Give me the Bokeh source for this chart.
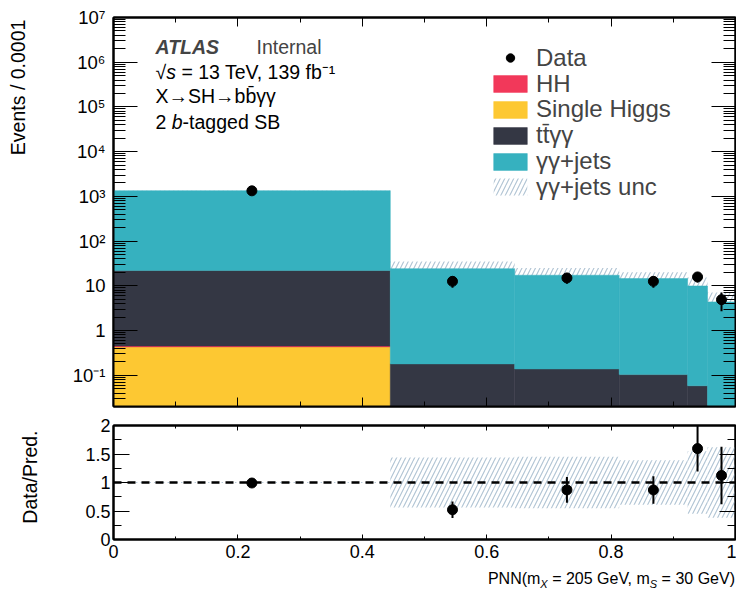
from bokeh.plotting import figure
from bokeh.models import (Range1d, FixedTicker, LinearAxis, LogAxis, CustomJSTickFormatter,
                          Legend, LegendItem, Label, Span, Div)
from bokeh.layouts import column
from bokeh.embed import file_html
from bokeh.resources import INLINE

# ---------------- data ----------------
bin_edges = [0.0, 0.445, 0.645, 0.813, 0.923, 0.955, 1.0]
single_higgs = [0.43, 0.004, 0.003, 0.003, 0.002, 0.001]
hh = [0.02, 0.0005, 0.0004, 0.0003, 0.0002, 0.0001]
ttyy = [21.5, 0.175, 0.135, 0.10, 0.056, 0.012]
yyjets = [1320.0, 24.0, 17.1, 14.4, 9.85, 4.35]
yyjets_unc_rel = [0.01, 0.44, 0.45, 0.39, 0.55, 0.62]
data = [1330.0, 12.6, 15.0, 12.6, 15.8, 4.9]
data_err = [36.5, 3.5, 3.9, 3.5, 4.0, 2.2]

x_major = [0.0, 0.2, 0.4, 0.6, 0.8, 1.0]
x_minor = [0.1, 0.3, 0.5, 0.7, 0.9]
y_major_exp = list(range(-1, 8))
ratio_major = [0.0, 0.5, 1.0, 1.5, 2.0]
ratio_minor = [0.25, 0.75, 1.25, 1.75]

legend_labels = ["Data", "HH", "Single Higgs", "tt\u0304\u03b3\u03b3", "\u03b3\u03b3+jets", "\u03b3\u03b3+jets unc"]

# ---------------- derived ----------------
n = len(data)
left = bin_edges[:-1]
right = bin_edges[1:]
centers = [(a + b) / 2 for a, b in zip(left, right)]
floor = 1e-6
b0 = [floor] * n
t_sh = [floor + v for v in single_higgs]
t_hh = [a + v for a, v in zip(t_sh, hh)]
t_tt = [a + v for a, v in zip(t_hh, ttyy)]
t_yy = [a + v for a, v in zip(t_tt, yyjets)]
total = [a + b + c + d for a, b, c, d in zip(single_higgs, hh, ttyy, yyjets)]
band_lo = [t * (1 - u) for t, u in zip(total, yyjets_unc_rel)]
band_hi = [t * (1 + u) for t, u in zip(total, yyjets_unc_rel)]
ratio = [d / t for d, t in zip(data, total)]
ratio_err = [e / t for e, t in zip(data_err, total)]
rband_lo = [1 - u for u in yyjets_unc_rel]
rband_hi = [1 + u for u in yyjets_unc_rel]

FONT = "Liberation Sans"
C_SH = "#fdc832"
C_HH = "#f2385a"
C_TT = "#343744"
C_YY = "#36b1bf"
C_HATCH = "#afc3d3"
NB = "\u00a0"
HATCH = dict(hatch_pattern="/", hatch_color=C_HATCH, hatch_scale=9, hatch_weight=1.1)

blank = CustomJSTickFormatter(code="return ''")
sup_fmt = CustomJSTickFormatter(code="""
const e = Math.round(Math.log10(tick));
if (e === 0) return "1";
if (e === 1) return "10";
const sup = {"-": "\\u207b", "0": "\\u2070", "1": "\\u00b9", "2": "\\u00b2", "3": "\\u00b3",
             "4": "\\u2074", "5": "\\u2075", "6": "\\u2076", "7": "\\u2077", "8": "\\u2078", "9": "\\u2079"};
return "10" + String(e).split("").map(c => sup[c]).join("");
""")
num_fmt = CustomJSTickFormatter(code="return String(Number(tick.toFixed(3)));")


def xticker():
    return FixedTicker(ticks=x_major, minor_ticks=x_minor)


def style_axis(ax, tin, tmin, labels=True, size="18px", standoff=5):
    ax.major_tick_in = tin
    ax.major_tick_out = 0
    ax.minor_tick_in = tmin
    ax.minor_tick_out = 0
    ax.axis_line_width = 2
    ax.axis_line_color = "black"
    ax.major_tick_line_width = 1
    ax.minor_tick_line_width = 1
    ax.major_tick_line_color = "black"
    ax.minor_tick_line_color = "black"
    if labels:
        ax.major_label_text_font = FONT
        ax.major_label_text_font_size = size
        ax.major_label_text_color = "black"
        ax.major_label_standoff = standoff
    else:
        ax.formatter = blank
        ax.major_label_text_font_size = "0px"
        ax.major_label_standoff = 0


def style_title(ax, text, standoff):
    ax.axis_label = text
    ax.axis_label_text_font = FONT
    ax.axis_label_text_font_size = "19.5px"
    ax.axis_label_text_font_style = "normal"
    ax.axis_label_text_color = "black"
    ax.axis_label_standoff = standoff


# ---------------- main panel ----------------
p = figure(width=736, height=416, x_range=Range1d(0, 1), y_range=Range1d(0.02, 1e7),
           y_axis_type="log", output_backend="svg", toolbar_location=None,
           min_border_left=113, min_border_right=1, min_border_top=17, min_border_bottom=10)
p.xgrid.visible = False
p.ygrid.visible = False
p.outline_line_color = "black"
p.outline_line_width = 2

y_ticker_main = FixedTicker(ticks=[10.0 ** e for e in y_major_exp],
                            minor_ticks=[k * 10.0 ** e for e in range(-2, 7) for k in range(2, 10)])

ly = p.left[0]
ly.ticker = y_ticker_main
ly.formatter = sup_fmt
style_axis(ly, 24, 12, True, "18.5px", 8)
style_title(ly, NB * 46 + "Events / 0.0001", 41)
bx = p.below[0]
bx.ticker = xticker()
style_axis(bx, 9, 5, False)

ry = LogAxis(ticker=y_ticker_main)
style_axis(ry, 24, 12, False)
p.add_layout(ry, "right")
tx = LinearAxis(ticker=xticker())
style_axis(tx, 9, 5, False)
p.add_layout(tx, "above")

# uncertainty band first: the stack covers its lower half, the part above the stack stays visible
r_unc = p.quad(left=left, right=right, bottom=band_lo, top=band_hi, fill_color=None, line_color=None, **HATCH)
r_sh = p.quad(left=left, right=right, bottom=b0, top=t_sh, fill_color=C_SH, line_color=C_SH, line_width=0.5)
r_hh = p.quad(left=left, right=right, bottom=t_sh, top=t_hh, fill_color=C_HH, line_color=C_HH, line_width=0.5)
r_tt = p.quad(left=left, right=right, bottom=t_hh, top=t_tt, fill_color=C_TT, line_color=C_TT, line_width=0.5)
r_yy = p.quad(left=left, right=right, bottom=t_tt, top=t_yy, fill_color=C_YY, line_color=C_YY, line_width=0.5)
p.segment(x0=centers, x1=centers, y0=[max(d - e, 1e-3) for d, e in zip(data, data_err)],
          y1=[d + e for d, e in zip(data, data_err)], line_color="black", line_width=2)
r_data = p.scatter(x=centers, y=data, size=10, marker="circle", fill_color="black", line_color="black")

# one legend per row so the rows sit at the reference spacing
legend_renderers = [r_data, r_hh, r_sh, r_tt, r_yy, r_unc]
ROW0, ROWSTEP, HALF_ROW = 58.0, 25.8, 13.8
for i, (lab, rend) in enumerate(zip(legend_labels, legend_renderers)):
    cy = ROW0 + ROWSTEP * i
    p.add_layout(Legend(items=[LegendItem(label=lab, renderers=[rend])],
                        location=(376, 406 - cy - HALF_ROW), glyph_width=42, glyph_height=21,
                        label_standoff=5, spacing=0, padding=0, margin=0, border_line_color=None,
                        background_fill_alpha=0, label_text_font=FONT, label_text_font_size="24px",
                        label_height=21))

# Arial/Liberation advance widths (per 1000 em)
ADV = {' ': 278, '2': 556, 'b': 556, '\u221a': 549, 's': 500}


def width(txt, size):
    return sum(ADV.get(c, 556) for c in txt) * size / 1000.0


def add_pieces(fig, pieces, x_start, y_base):
    x = x_start
    for txt, size, style in pieces:
        lead = len(txt) - len(txt.lstrip(' '))
        fig.add_layout(Label(x=x + lead * ADV[' '] * size / 1000.0, y=y_base, x_units="screen",
                             y_units="screen", text=txt.strip(), text_font=FONT,
                             text_font_size=f"{size}px", text_font_style=style,
                             text_baseline="alphabetic", text_align="left", text_color="black"))
        x += width(txt, size)


FS = 19.5
p.add_layout(Label(x=42, y=359.7, x_units="screen", y_units="screen", text="ATLAS", text_font=FONT,
                   text_font_style="bold italic", text_font_size=f"{FS}px", text_baseline="alphabetic"))
p.add_layout(Label(x=143, y=359.7, x_units="screen", y_units="screen", text="Internal", text_font=FONT,
                   text_font_size=f"{FS}px", text_baseline="alphabetic"))
add_pieces(p, [("\u221a", FS, "normal"), ("s", FS, "italic"),
               (" = 13 TeV, 139 fb\u207b\u00b9", FS, "normal")], 42, 335)
p.add_layout(Label(x=42, y=310.3, x_units="screen", y_units="screen",
                   text="X\u2192SH\u2192bb\u0304\u03b3\u03b3", text_font=FONT,
                   text_font_size=f"{FS}px", text_baseline="alphabetic", text_color="black"))
add_pieces(p, [("2 ", FS, "normal"), ("b", FS, "italic"), ("-tagged SB", FS, "normal")], 42, 284.3)

# ---------------- ratio panel ----------------
r = figure(width=736, height=152, x_range=Range1d(0, 1), y_range=Range1d(0, 2),
           output_backend="svg", toolbar_location=None,
           min_border_left=113, min_border_right=1, min_border_top=9, min_border_bottom=29)
r.xgrid.visible = False
r.ygrid.visible = False
r.outline_line_color = "black"
r.outline_line_width = 2

y_ticker_ratio = FixedTicker(ticks=ratio_major, minor_ticks=ratio_minor)
rl = r.left[0]
rl.ticker = y_ticker_ratio
rl.formatter = num_fmt
style_axis(rl, 16, 8, True, "18px", 3)
style_title(rl, NB * 2 + "Data/Pred.", 41)
rb = r.below[0]
rb.ticker = xticker()
rb.formatter = num_fmt
style_axis(rb, 5, 3, True, "18px", 5)
rr = LinearAxis(ticker=y_ticker_ratio)
style_axis(rr, 16, 8, False)
r.add_layout(rr, "right")
rt = LinearAxis(ticker=xticker())
style_axis(rt, 5, 3, False)
r.add_layout(rt, "above")

r.quad(left=left, right=right, bottom=rband_lo, top=rband_hi, fill_color=None, line_color=None, **HATCH)
r.add_layout(Span(location=1, dimension="width", line_color="black", line_width=2.5, line_dash="8 6"))
r.segment(x0=centers, x1=centers, y0=[a - e for a, e in zip(ratio, ratio_err)],
          y1=[a + e for a, e in zip(ratio, ratio_err)], line_color="black", line_width=2)
r.scatter(x=centers, y=ratio, size=10, marker="circle", fill_color="black", line_color="black")

sub = "font-size:11px;font-style:italic;position:relative;top:4px;"
xlabel = Div(text=(f'<div style="font-family:\'{FONT}\';font-size:16px;line-height:16px;color:black;'
                   f'text-align:right;width:735px;white-space:nowrap;padding-top:3px;">'
                   f'PNN(m<span style="{sub}">X</span> = 205 GeV, m<span style="{sub}">S</span> = 30 GeV)</div>'),
             width=736, height=21, margin=0)

layout = column(p, r, xlabel)
open("out.html", "w").write(file_html(layout, INLINE))
